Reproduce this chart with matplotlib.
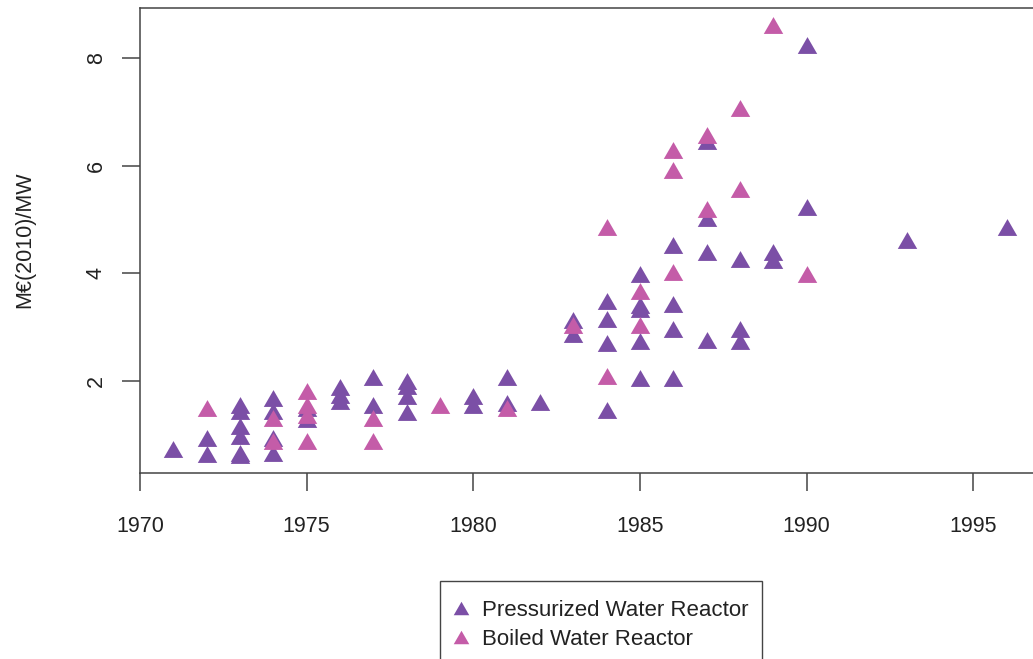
import matplotlib
matplotlib.use("Agg")
import matplotlib.pyplot as plt
from matplotlib.path import Path
from matplotlib.patches import Rectangle

plt.rcParams['font.family'] = ['Liberation Sans', 'DejaVu Sans']

# Pressurized Water Reactor (year, M€(2010)/MW)
pwr_year = [1971,
            1972, 1972,
            1973, 1973, 1973, 1973, 1973, 1973,
            1974, 1974, 1974, 1974,
            1975, 1975,
            1976, 1976, 1976,
            1977, 1977,
            1978, 1978, 1978, 1978,
            1980, 1980,
            1981, 1981,
            1982,
            1983, 1983,
            1984, 1984, 1984, 1984,
            1985, 1985, 1985, 1985, 1985,
            1986, 1986, 1986, 1986,
            1987, 1987, 1987, 1987,
            1988, 1988, 1988,
            1989, 1989,
            1990, 1990,
            1993,
            1996]
pwr_cost = [0.72,
            0.94, 0.63,
            1.54, 1.44, 1.15, 0.96, 0.65, 0.61,
            1.67, 1.43, 0.93, 0.65,
            1.48, 1.28,
            1.88, 1.74, 1.62,
            2.07, 1.54,
            2.00, 1.90, 1.72, 1.42,
            1.72, 1.54,
            2.07, 1.58,
            1.61,
            3.13, 2.87,
            3.48, 3.15, 2.69, 1.46,
            3.98, 3.41, 3.33, 2.74, 2.04,
            4.52, 3.42, 2.95, 2.04,
            6.46, 5.02, 4.40, 2.76,
            4.27, 2.95, 2.74,
            4.40, 4.25,
            8.24, 5.22,
            4.61,
            4.86]

# Boiled Water Reactor
bwr_year = [1972,
            1974, 1974,
            1975, 1975, 1975, 1975,
            1977, 1977,
            1979,
            1981,
            1983,
            1984, 1984,
            1985, 1985,
            1986, 1986, 1986,
            1987, 1987,
            1988, 1988,
            1989,
            1990]
bwr_cost = [1.48,
            1.30, 0.87,
            1.80, 1.55, 1.35, 0.87,
            1.30, 0.87,
            1.54,
            1.48,
            3.03,
            4.85, 2.09,
            3.67, 3.04,
            6.28, 5.92, 4.01,
            6.57, 5.19,
            7.07, 5.57,
            8.61,
            3.99]

x_ticks = [1970, 1975, 1980, 1985, 1990, 1995]
y_ticks = [2, 4, 6, 8]

# filled triangle like R's pch 17, centred on its bounding box
tri = Path([(0, 0.75), (-0.866, -0.75), (0.866, -0.75), (0, 0.75)],
           [Path.MOVETO, Path.LINETO, Path.LINETO, Path.CLOSEPOLY])

pwr_col = '#7B4FA6'
bwr_col = '#C45CA8'

fig = plt.figure(figsize=(10.33, 6.59), dpi=100)
ax = fig.add_axes([140 / 1033, 1 - 473 / 659, 900 / 1033, 465 / 659])

ax.plot(pwr_year, pwr_cost, linestyle='none', marker=tri, markersize=14,
        color=pwr_col, markeredgewidth=0, label='Pressurized Water Reactor')
ax.plot(bwr_year, bwr_cost, linestyle='none', marker=tri, markersize=14,
        color=bwr_col, markeredgewidth=0, label='Boiled Water Reactor')

ax.set_xlim(1970, 1997)
ax.set_ylim(0.28, 8.93)
ax.set_xticks(x_ticks)
ax.set_yticks(y_ticks)
ax.set_yticklabels([str(v) for v in y_ticks], rotation=90, va='center')

for s in ax.spines.values():
    s.set_color('#444444')
    s.set_linewidth(1.1)
ax.tick_params(axis='both', direction='out', length=13, width=1.1,
               color='#444444', labelsize=15.5, labelcolor='#222222')
ax.tick_params(axis='x', pad=18)
ax.tick_params(axis='y', pad=11)

fig.text(25 / 1033, 1 - 240 / 659, 'M€(2010)/MW', rotation=90,
         ha='center', va='center', fontsize=15.5, color='#222222')

# legend entries, frame drawn separately (it runs off the bottom edge)
leg = fig.legend(loc='upper left', bbox_to_anchor=(454 / 1033, 1 - 600 / 659),
                 borderaxespad=0, borderpad=0, fontsize=16, markerscale=0.8,
                 handlelength=0.65, handletextpad=0.61, labelspacing=0.35,
                 frameon=False)
for t in leg.get_texts():
    t.set_color('#222222')
fig.patches.append(Rectangle((440 / 1033, -11 / 659), 322 / 1033, 89 / 659,
                             transform=fig.transFigure, fill=False,
                             edgecolor='#444444', linewidth=1.0))

fig.savefig('out.png', dpi=100)
